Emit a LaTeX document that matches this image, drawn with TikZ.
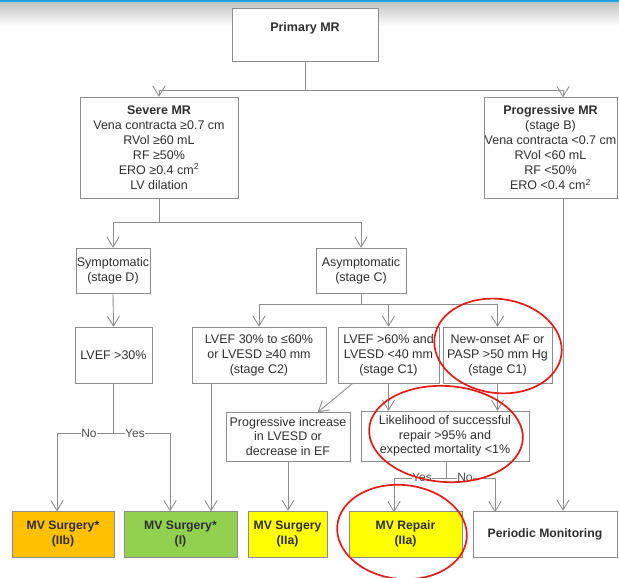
\documentclass[tikz,border=0pt]{standalone}
\usepackage{fontspec}
\setmainfont{Liberation Sans}
\usetikzlibrary{arrows.meta,calc}
\definecolor{edge}{HTML}{8C8C8C}
\definecolor{ink}{HTML}{2E2E2E}
\definecolor{orangebox}{HTML}{FFC000}
\definecolor{greenbox}{HTML}{92D050}
\definecolor{yellowbox}{HTML}{FFFF00}
\definecolor{topbar}{HTML}{1BA1E2}
\definecolor{mark}{HTML}{E41B17}
\begin{document}
\begin{tikzpicture}[x=1pt,y=-1pt,
  font=\fontsize{12.5}{15}\selectfont,
  box/.style={draw=edge, line width=0.9pt, fill=white, text=ink, align=center, inner sep=0pt},
  link/.style={draw=edge, line width=0.9pt},
  arr/.style={link, -{Straight Barb[length=10pt,width=12pt,line width=0.9pt,round]}},
  choice/.style={fill=white, text=ink!85, inner sep=0.5pt, font=\fontsize{12}{13}\selectfont},
  result/.style={box, font=\fontsize{12.2}{15}\selectfont\bfseries},
  circled/.style={draw=mark, line width=1.7pt}]
\useasboundingbox (0,0) rectangle (619,578);

% header strip
\shade[top color=black!24, bottom color=white] (0,2) rectangle (619,26);
\fill[topbar] (0,0) rectangle (619,2.5);

% boxes
\node[box, minimum width=146pt, minimum height=53pt] (prim) at (305,34.5)
  {\raisebox{6pt}[\height][\depth]{\bfseries\fontsize{12.5}{15}\selectfont Primary MR}};
\node[box, minimum width=158pt, minimum height=101pt] (severe) at (159,147.5)
  {\textbf{Severe MR}\\Vena contracta ≥0.7 cm\\RVol ≥60 mL\\RF ≥50\%\\ERO ≥0.4 cm\textsuperscript{2}\\LV dilation};
\node[box, minimum width=133pt, minimum height=101pt] (prog) at (550.5,147.5)
  {\textbf{Progressive MR}\\(stage B)\\Vena contracta <0.7 cm\\RVol <60 mL\\RF <50\%\\ERO <0.4 cm\textsuperscript{2}};
\node[box, minimum width=74pt, minimum height=45pt] (sympt) at (113,270.5) {Symptomatic\\(stage D)};
\node[box, minimum width=90pt, minimum height=45pt] (asympt) at (361,270.5) {Asymptomatic\\(stage C)};
\node[box, minimum width=77pt, minimum height=56pt] (lvef) at (113.5,355) {LVEF >30\%};
\node[box, minimum width=134pt, minimum height=56pt] (ctwo) at (259,355) {LVEF 30\% to ≤60\%\\or LVESD ≥40 mm\\(stage C2)};
\node[box, minimum width=101pt, minimum height=56pt] (cone) at (388.5,355) {LVEF >60\% and\\LVESD <40 mm\\(stage C1)};
\node[box, minimum width=109pt, minimum height=56pt] (newaf) at (497.5,355) {New-onset AF or\\PASP >50 mm Hg\\(stage C1)};
\node[box, minimum width=124pt, minimum height=49pt, font=\fontsize{12.5}{14.5}\selectfont] (princ) at (288,436.5) {Progressive increase\\in LVESD or\\decrease in EF};
\node[box, minimum width=168pt, minimum height=50pt, font=\fontsize{12.5}{14.5}\selectfont] (likely) at (445,436) {Likelihood of successful\\repair >95\% and\\expected mortality <1\%};

\node[result, fill=orangebox, minimum width=102pt, minimum height=46pt] (siib) at (63,534) {MV Surgery*\\(IIb)};
\node[result, fill=greenbox, minimum width=113pt, minimum height=46pt] (si) at (180.5,534) {MV Surgery*\\(I)};
\node[result, fill=yellowbox, minimum width=79pt, minimum height=46pt] (siia) at (287.5,534) {MV Surgery\\(IIa)};
\node[result, fill=yellowbox, minimum width=113pt, minimum height=46pt] (repair) at (405.5,534) {MV Repair\\(IIa)};
\node[result, minimum width=144pt, minimum height=46pt] (periodic) at (545,534) {Periodic Monitoring};

% entry points that sit off a box centre
\coordinate (progin) at (563,97);
\coordinate (iibin) at (57,511);
\coordinate (iin) at (170,511);
\coordinate (iin2) at (211,511);
\coordinate (princin) at (318,412);
\coordinate (repin) at (394,512);
\coordinate (perin) at (495,512);

% connectors
\draw[link] (prim.south) -- ++(0,29) coordinate (j1);
\draw[arr] (j1) -| (severe.north);
\draw[arr] (j1) -| (progin);

\draw[link] (severe.south) -- ++(0,24) coordinate (j2);
\draw[arr] (j2) -| (sympt.north);
\draw[arr] (j2) -| (asympt.north);

\draw[arr] (sympt.south) -- (lvef.north);

\draw[link] (asympt.south) -- ++(0,11) coordinate (j3);
\draw[arr] (j3) -| (ctwo.north);
\draw[arr] (j3) -| (cone.north);
\draw[arr] (j3) -| (newaf.north);

\draw[link] (lvef.south) -- ++(0,50) coordinate (j4);
\draw[arr] (j4) -| (iibin);
\draw[arr] (j4) -| (iin);
\node[choice] (no1) at (89,433) {No};
\node[choice] (yes1) at (135,433) {Yes};

\draw[arr] (ctwo.south -| iin2) -- (iin2);
\draw[arr] ($(cone.south west)+(15,0)$) -- (princin);
\draw[arr] (cone.south) -- (cone.south |- likely.north);
\draw[arr] (newaf.south) -- (newaf.south |- likely.north);
\draw[arr] (princ.south) -- (princ.south |- siia.north);

\draw[link] ($(likely.south)+(1,0)$) -- ++(0,17) coordinate (j5);
\draw[arr] (j5) -| (repin);
\draw[arr] (j5) -| (perin);
\node[choice] (yes2) at (422,477) {Yes};
\node[choice] (no2) at (465,477) {No};

\draw[arr] (prog.south -| progin) -- (periodic.north -| progin);

% highlight rings
\draw[circled, rotate around={-8:(498,346)}] (498,346) ellipse [x radius=64pt, y radius=47pt];
\draw[circled, rotate around={-4:(446,434)}] (446,434) ellipse [x radius=77pt, y radius=48pt];
\draw[circled, rotate around={-6:(402,532)}] (402,532) ellipse [x radius=65pt, y radius=47pt];
\end{tikzpicture}
\end{document}
